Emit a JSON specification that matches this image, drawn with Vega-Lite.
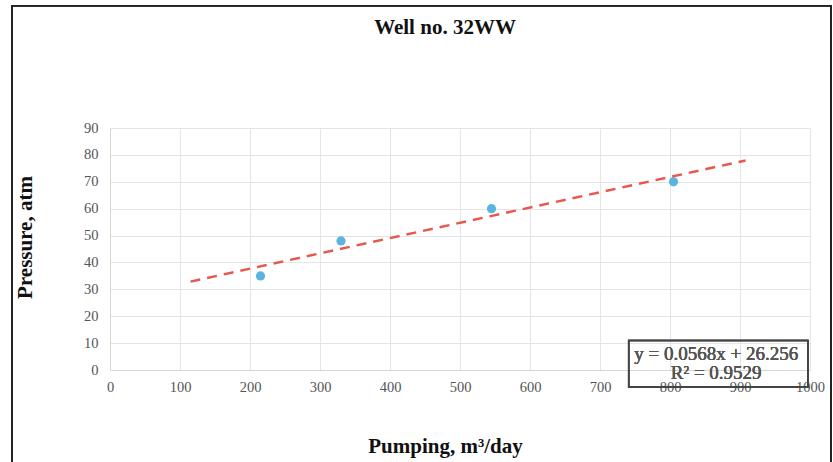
{
  "$schema": "https://vega.github.io/schema/vega-lite/v6.json",
  "autosize": "none",
  "width": 700,
  "height": 242,
  "padding": {"left": 110, "top": 128, "right": 23, "bottom": 92},
  "background": "white",
  "title": {
    "text": "Well no. 32WW",
    "font": "Liberation Serif",
    "fontSize": 21,
    "fontWeight": "bold",
    "color": "#111",
    "anchor": "middle",
    "dx": -15,
    "offset": -33
  },
  "data": {
    "values": [
      {"Pumping": 215, "Pressure": 35},
      {"Pumping": 330, "Pressure": 48},
      {"Pumping": 545, "Pressure": 60},
      {"Pumping": 805, "Pressure": 70}
    ]
  },
  "config": {
    "view": {"stroke": null},
    "axis": {
      "labelFont": "Liberation Serif",
      "labelFontSize": 14.5,
      "labelColor": "#555",
      "labelOverlap": false,
      "labelFlush": false,
      "titleFont": "Liberation Serif",
      "titleFontSize": 21,
      "titleFontWeight": "bold",
      "titleColor": "#111",
      "grid": true,
      "gridColor": "#e4e4e4",
      "domainColor": "#d6d6d6",
      "ticks": false
    }
  },
  "layer": [
    {
      "mark": {"type": "point", "filled": true, "size": 85, "color": "#5ab4de", "opacity": 1},
      "encoding": {
        "x": {
          "field": "Pumping",
          "type": "quantitative",
          "scale": {"domain": [0, 1000], "nice": false},
          "axis": {
            "title": "Pumping, m³/day",
            "values": [0, 100, 200, 300, 400, 500, 600, 700, 800, 900, 1000],
            "format": "d",
            "labelPadding": 10,
            "titleX": 335,
            "titleY": 65,
            "titleAnchor": "middle"
          }
        },
        "y": {
          "field": "Pressure",
          "type": "quantitative",
          "scale": {"domain": [0, 90], "nice": false},
          "axis": {
            "title": "Pressure, atm",
            "values": [0, 10, 20, 30, 40, 50, 60, 70, 80, 90],
            "tickCount": 10,
            "format": "d",
            "labelPadding": 12,
            "titleX": -75,
            "titleY": 109,
            "titleAnchor": "middle"
          }
        }
      }
    },
    {
      "mark": {"type": "rect", "fill": null, "stroke": "#222", "strokeWidth": 1.5, "clip": false},
      "encoding": {
        "x": {"datum": -140, "type": "quantitative"},
        "x2": {"datum": 1030},
        "y": {"datum": 135.5, "type": "quantitative"},
        "y2": {"datum": -45}
      }
    },
    {
      "transform": [{"regression": "Pressure", "on": "Pumping", "extent": [115, 908]}],
      "mark": {"type": "line", "color": "#e8574c", "strokeWidth": 2.5, "strokeDash": [10, 7]},
      "encoding": {
        "x": {"field": "Pumping", "type": "quantitative"},
        "y": {"field": "Pressure", "type": "quantitative"}
      }
    },
    {
      "mark": {"type": "rect", "fill": null, "stroke": "#444", "strokeWidth": 1.5, "clip": false},
      "encoding": {
        "x": {"datum": 741, "type": "quantitative"},
        "x2": {"datum": 997},
        "y": {"datum": 11.0, "type": "quantitative"},
        "y2": {"datum": -6.3}
      }
    },
    {
      "mark": {
        "type": "text",
        "text": "y = 0.0568x + 26.256\nR² = 0.9529",
        "lineBreak": "\n",
        "lineHeight": 19,
        "font": "Liberation Serif",
        "fontSize": 19,
        "fontWeight": "normal",
        "color": "#555",
        "align": "center",
        "baseline": "top",
        "clip": false
      },
      "encoding": {
        "x": {"datum": 866, "type": "quantitative"},
        "y": {"datum": 9.4, "type": "quantitative"}
      }
    }
  ]
}
